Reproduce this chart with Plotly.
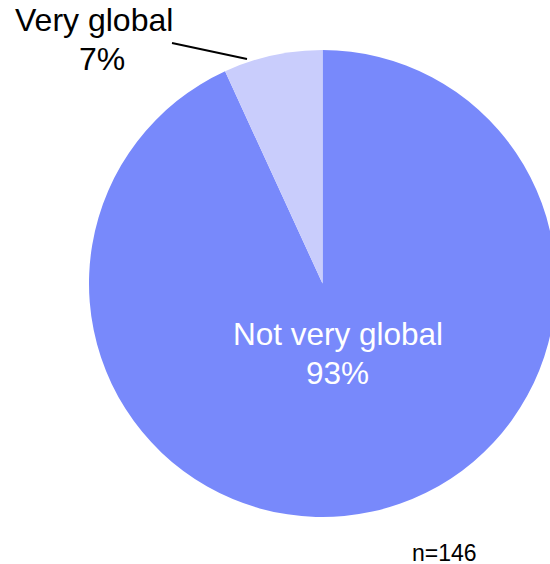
import plotly.graph_objects as go

labels = ["Not very global", "Very global"]
values = [136, 10]
colors = ["#7889FB", "#C9CDFC"]
sample_note = "n=146"

# figure is a bit wider than the window so the pie runs off the right edge
W, H = 556, 564
FONT = "Liberation Sans, Arial, sans-serif"


def px(X):
    return X / W


def py(Y):
    return 1 - Y / H


total = sum(values)
pct = [round(v / total * 100) for v in values]

fig = go.Figure(go.Pie(
    labels=labels,
    values=values,
    sort=False,
    direction="clockwise",
    rotation=0,
    marker=dict(colors=colors, line=dict(width=0)),
    textinfo="none",
    hoverinfo="label+percent",
    domain=dict(x=[px(89), px(556)], y=[py(517), py(50)]),
    showlegend=False,
))


def label(text, X, Y, size, color):
    fig.add_annotation(
        x=px(X), y=py(Y), xref="paper", yref="paper",
        text=text, showarrow=False,
        font=dict(size=size, color=color, family=FONT),
        xanchor="center", yanchor="middle",
    )


# outside label for the small slice
label(labels[1], 93.5, 20, 32, "black")
label(f"{pct[1]}%", 102, 59, 32, "black")
fig.add_shape(
    type="line", xref="paper", yref="paper",
    x0=px(172), y0=py(43), x1=px(247), y1=py(59),
    line=dict(color="black", width=2),
)
# inside label for the big slice
label(labels[0], 337.5, 334, 31.5, "white")
label(f"{pct[0]}%", 337, 373, 31.5, "white")
# sample size note
label(sample_note, 444, 553, 23, "black")

fig.update_layout(
    width=W, height=H,
    margin=dict(l=0, r=0, t=0, b=0),
    paper_bgcolor="white", plot_bgcolor="white",
)

fig.write_html(
    "out.html",
    config={"displayModeBar": False},
    post_script=(
        "document.body.style.margin='0';"
        "document.body.style.overflow='hidden';"
        "document.documentElement.style.overflow='hidden';"
    ),
)
